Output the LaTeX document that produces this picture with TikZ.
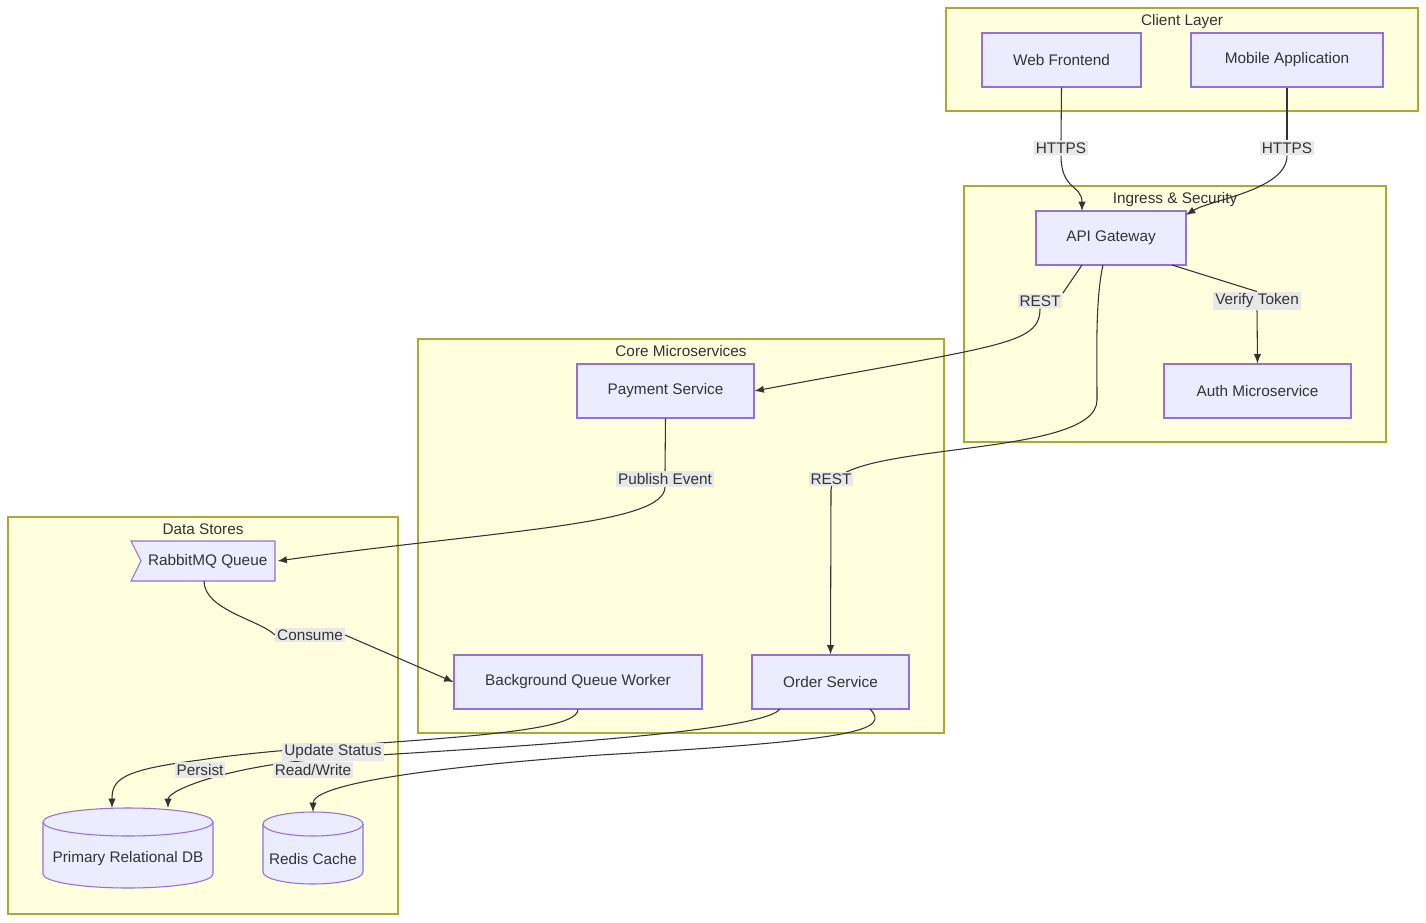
\documentclass[tikz,border=0pt]{standalone}
\usepackage{fontspec}
\setmainfont{Liberation Sans}
\usetikzlibrary{arrows.meta}
\definecolor{nfill}{HTML}{ECECFF}
\definecolor{nline}{HTML}{9370DB}
\definecolor{cfill}{HTML}{FFFFDE}
\definecolor{cline}{HTML}{AAAA33}
\definecolor{txt}{HTML}{333333}
\definecolor{lbg}{HTML}{E8E8E8}
\tikzset{
 box/.style={draw=nline,fill=nfill,line width=0.8pt,text=txt,font=\fontsize{11.5}{13}\selectfont,inner sep=0},
 clus/.style={draw=cline,fill=cfill,line width=0.8pt},
 ctitle/.style={text=txt,font=\fontsize{11.5}{13}\selectfont,anchor=north},
 lbl/.style={fill=lbg,text=txt,font=\fontsize{11.5}{13}\selectfont,inner sep=1.5pt},
 edge/.style={draw=txt,line width=0.8pt,-{Latex[length=7pt,width=5.5pt]}},
 seg/.style={draw=txt,line width=0.8pt}
}
\begin{document}
\begin{tikzpicture}[x=0.75pt,y=-0.75pt]
\useasboundingbox (0,0) rectangle (1426,923);
% clusters
\draw[clus] (946,8) rectangle (1418,111); \node[ctitle] (tC) at (1182,10) {Client Layer};
\draw[clus] (964,186) rectangle (1386,442); \node[ctitle] (tI) at (1175,188) {Ingress \& Security};
\draw[clus] (418,339) rectangle (944,733); \node[ctitle] (tM) at (681,341) {Core Microservices};
\draw[clus] (8,517) rectangle (398,914); \node[ctitle] (tD) at (203,519) {Data Stores};
% nodes
\node[box,minimum width=159*0.75pt,minimum height=54*0.75pt] (web) at (1061.5,60) {Web Frontend};
\node[box,minimum width=192*0.75pt,minimum height=54*0.75pt] (mob) at (1287,60) {Mobile Application};
\node[box,minimum width=150*0.75pt,minimum height=54*0.75pt] (api) at (1111,238) {API Gateway};
\node[box,minimum width=187*0.75pt,minimum height=54*0.75pt] (auth) at (1257.5,391) {Auth Microservice};
\node[box,minimum width=177*0.75pt,minimum height=54*0.75pt] (pay) at (665.5,391) {Payment Service};
\node[box,minimum width=248*0.75pt,minimum height=54*0.75pt] (work) at (578,682) {Background Queue Worker};
\node[box,minimum width=157*0.75pt,minimum height=54*0.75pt] (ord) at (830.5,682) {Order Service};
% rabbit flag
\draw[draw=nline,fill=nfill,line width=0.8pt] (131,541) -- (275,541) -- (275,581) -- (131,581) -- (141,561) -- cycle;
\node[box,draw=none,fill=none,minimum width=144*0.75pt,minimum height=40*0.75pt] (rmq) at (205,561) {\hspace{4pt}RabbitMQ Queue};
% cylinders
\draw[draw=nline,fill=nfill,line width=0.8pt] (43,822) -- (43,874) arc[start angle=180,end angle=0,x radius=85,y radius=14] -- (213,822) arc[start angle=0,end angle=-180,x radius=85,y radius=14];
\draw[draw=nline,line width=0.8pt] (43,822) arc[start angle=180,end angle=0,x radius=85,y radius=14];
\node[box,draw=none,fill=none,minimum width=170*0.75pt,minimum height=80*0.75pt] (db) at (128,848) {};
\node[box,draw=none,fill=none] (dbt) at (128,859) {Primary Relational DB};
\draw[draw=nline,fill=nfill,line width=0.8pt] (263,824) -- (263,872) arc[start angle=180,end angle=0,x radius=50,y radius=12] -- (363,824) arc[start angle=0,end angle=-180,x radius=50,y radius=12];
\draw[draw=nline,line width=0.8pt] (263,824) arc[start angle=180,end angle=0,x radius=50,y radius=12];
\node[box,draw=none,fill=none,minimum width=100*0.75pt,minimum height=72*0.75pt] (red) at (313,848) {};
\node[box,draw=none,fill=none] (redt) at (313,859) {Redis Cache};
% label anchors
\begin{scope}[lbl/.append style={fill=none,text opacity=0}]
\node[lbl] (l1) at (1061,148) {HTTPS};
\node[lbl] (l2) at (1287,148) {HTTPS};
\node[lbl] (l3) at (1040,301) {REST};
\node[lbl] (l4) at (1257,301) {Verify Token};
\node[lbl] (l5) at (831,479) {REST};
\node[lbl] (l6) at (665,479) {Publish Event};
\node[lbl] (l7) at (310,635) {Consume};
\node[lbl] (l8) at (200,770) {Persist};
\node[lbl] (l9) at (333,752) {Update Status};
\node[lbl] (l10) at (313,770) {Read/Write};
\end{scope}
% edges
\draw[seg] (web.south) -- (l1.north);
\draw[edge] (l1.south) .. controls (1061,190) and (1082,185) .. (1082,211);
\draw[seg] (mob.south) -- (l2.north);
\draw[edge] (l2.south) .. controls (1287,190) and (1210,200) .. (1186,215);
\draw[seg] (1082,265) -- (l3.north east);
\draw[edge] (l3.south) .. controls (1040,345) and (1000,345) .. (pay.east);
\draw[seg] (1172,265) -- (l4.north);
\draw[edge] (l4.south) -- (auth.north);
\draw[edge] (1103,265) .. controls (1095,300) and (1097,360) .. (1097,400) .. controls (1097,460) and (831,440) .. (831,490) -- (ord.north);
\draw[seg] (pay.south) -- (l6.north);
\draw[edge] (l6.south) .. controls (665,525) and (500,530) .. (rmq.east);
\draw[seg] (204,581) .. controls (204,610) and (260,620) .. (l7.west);
\draw[edge] (l7.east) -- (work.west);
\draw[edge] (work.south) .. controls (578,740) and (330,740) .. (200,760) .. controls (120,770) and (112,780) .. (112,808);
\draw[edge] (780,709) .. controls (760,735) and (450,750) .. (333,758) .. controls (230,765) and (168,790) .. (168,808);
\draw[edge] (870,709) .. controls (890,730) and (860,740) .. (600,755) .. controls (420,768) and (313,785) .. (313,812);
% labels on top
\node[lbl] (L1) at (l1) {HTTPS};
\node[lbl] (L2) at (l2) {HTTPS};
\node[lbl] (L3) at (l3) {REST};
\node[lbl] (L4) at (l4) {Verify Token};
\node[lbl] (L5) at (l5) {REST};
\node[lbl] (L6) at (l6) {Publish Event};
\node[lbl] (L7) at (l7) {Consume};
\node[lbl] (L9) at (l9) {Update Status};
\node[lbl] (L8) at (l8) {Persist};
\node[lbl] (L10) at (l10) {Read/Write};
\end{tikzpicture}
\end{document}
